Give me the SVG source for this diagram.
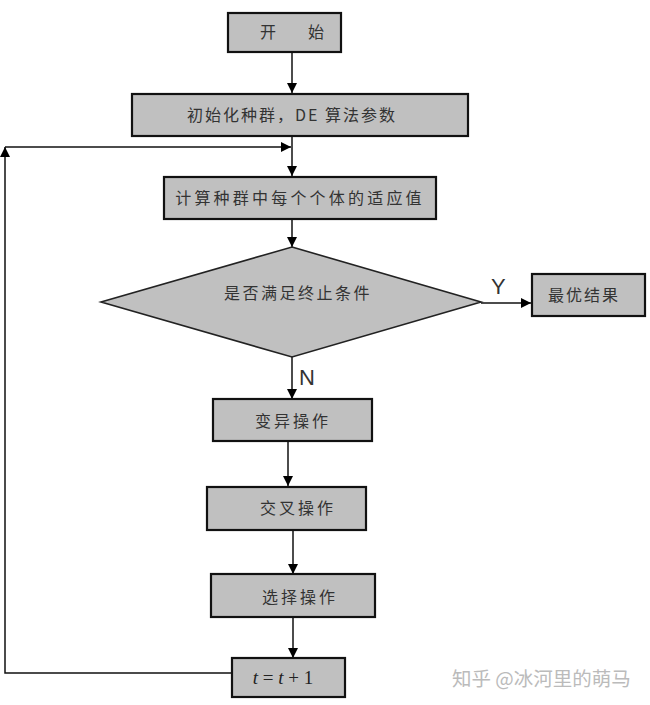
<svg xmlns="http://www.w3.org/2000/svg" width="650" height="705" viewBox="0 0 650 705">
<defs>
<marker id="ah" viewBox="0 0 10 10" refX="10" refY="5" markerWidth="10" markerHeight="10" markerUnits="userSpaceOnUse" orient="auto">
<path d="M0,0 L10,5 L0,10 z" fill="#000"/>
</marker>
<style>
.box{fill:#c0c0c0;stroke:#111;stroke-width:2.2}
.dia{fill:#c0c0c0;stroke:#222;stroke-width:1.6}
.lbl{font-family:"Noto Sans CJK SC","Noto Sans",sans-serif;font-size:16px;fill:#333;text-anchor:middle}
.yn{font-family:"Liberation Sans",Arial,sans-serif;font-size:22px;fill:#333}
.ln{fill:none;stroke:#111;stroke-width:1.5}
.wm{font-family:"Noto Sans CJK SC","Noto Sans",sans-serif;font-size:19.5px;fill:#bbb}
</style>
</defs>
<rect width="650" height="705" fill="#fff"/>
<g id="connectors">
<line class="ln" x1="292" y1="52" x2="292" y2="93" marker-end="url(#ah)"/>
<line class="ln" x1="292" y1="136" x2="292" y2="176" marker-end="url(#ah)"/>
<line class="ln" x1="292" y1="219" x2="292" y2="247" marker-end="url(#ah)"/>
<line class="ln" x1="481" y1="303" x2="531" y2="303" stroke-width="2.2" marker-end="url(#ah)"/>
<line class="ln" x1="292" y1="357" x2="292" y2="399" marker-end="url(#ah)"/>
<line class="ln" x1="288" y1="441" x2="288" y2="486" marker-end="url(#ah)"/>
<line class="ln" x1="293" y1="530" x2="293" y2="574" marker-end="url(#ah)"/>
<line class="ln" x1="293" y1="617" x2="293" y2="658" marker-end="url(#ah)"/>
<polyline class="ln" stroke="#444" points="232,673 5,673 5,147" marker-end="url(#ah)"/>
<line class="ln" x1="5" y1="147" x2="291" y2="147" stroke-width="2.5" marker-end="url(#ah)"/>
<text class="yn" x="491" y="294">Y</text>
<text class="yn" x="299" y="385">N</text>
</g>
<g id="start">
<rect class="box" x="228" y="13" width="113" height="39"/>
<text class="lbl" x="292" y="38">开　　始</text>
</g>
<g id="init">
<rect class="box" x="132" y="94" width="336" height="42"/>
<text class="lbl" x="292" y="121" letter-spacing="2">初始化种群，DE 算法参数</text>
</g>
<g id="fitness">
<rect class="box" x="164" y="177" width="272" height="42"/>
<text class="lbl" x="300" y="204" letter-spacing="3.2">计算种群中每个个体的适应值</text>
</g>
<g id="decision">
<polygon class="dia" points="292,247 481,302 292,357 101,302"/>
<text class="lbl" x="298" y="299" letter-spacing="2.5">是否满足终止条件</text>
</g>
<g id="result">
<rect class="box" x="532" y="274" width="113" height="42"/>
<text class="lbl" x="584" y="301" letter-spacing="2">最优结果</text>
</g>
<g id="mutate">
<rect class="box" x="213" y="399" width="159" height="42"/>
<text class="lbl" x="293" y="427" letter-spacing="3">变异操作</text>
</g>
<g id="cross">
<rect class="box" x="207" y="487" width="159" height="43"/>
<text class="lbl" x="298" y="514" letter-spacing="3">交叉操作</text>
</g>
<g id="select">
<rect class="box" x="211" y="574" width="164" height="43"/>
<text class="lbl" x="300" y="603" letter-spacing="3">选择操作</text>
</g>
<g id="increment">
<rect class="box" x="232" y="658" width="113" height="39"/>
<text x="283" y="684" font-family="'Liberation Serif','Times New Roman',serif" font-size="19" fill="#222" text-anchor="middle"><tspan font-style="italic">t</tspan> = <tspan font-style="italic">t</tspan> + 1</text>
</g>
<text class="wm" x="452" y="686">知乎 @冰河里的萌马</text>
</svg>
